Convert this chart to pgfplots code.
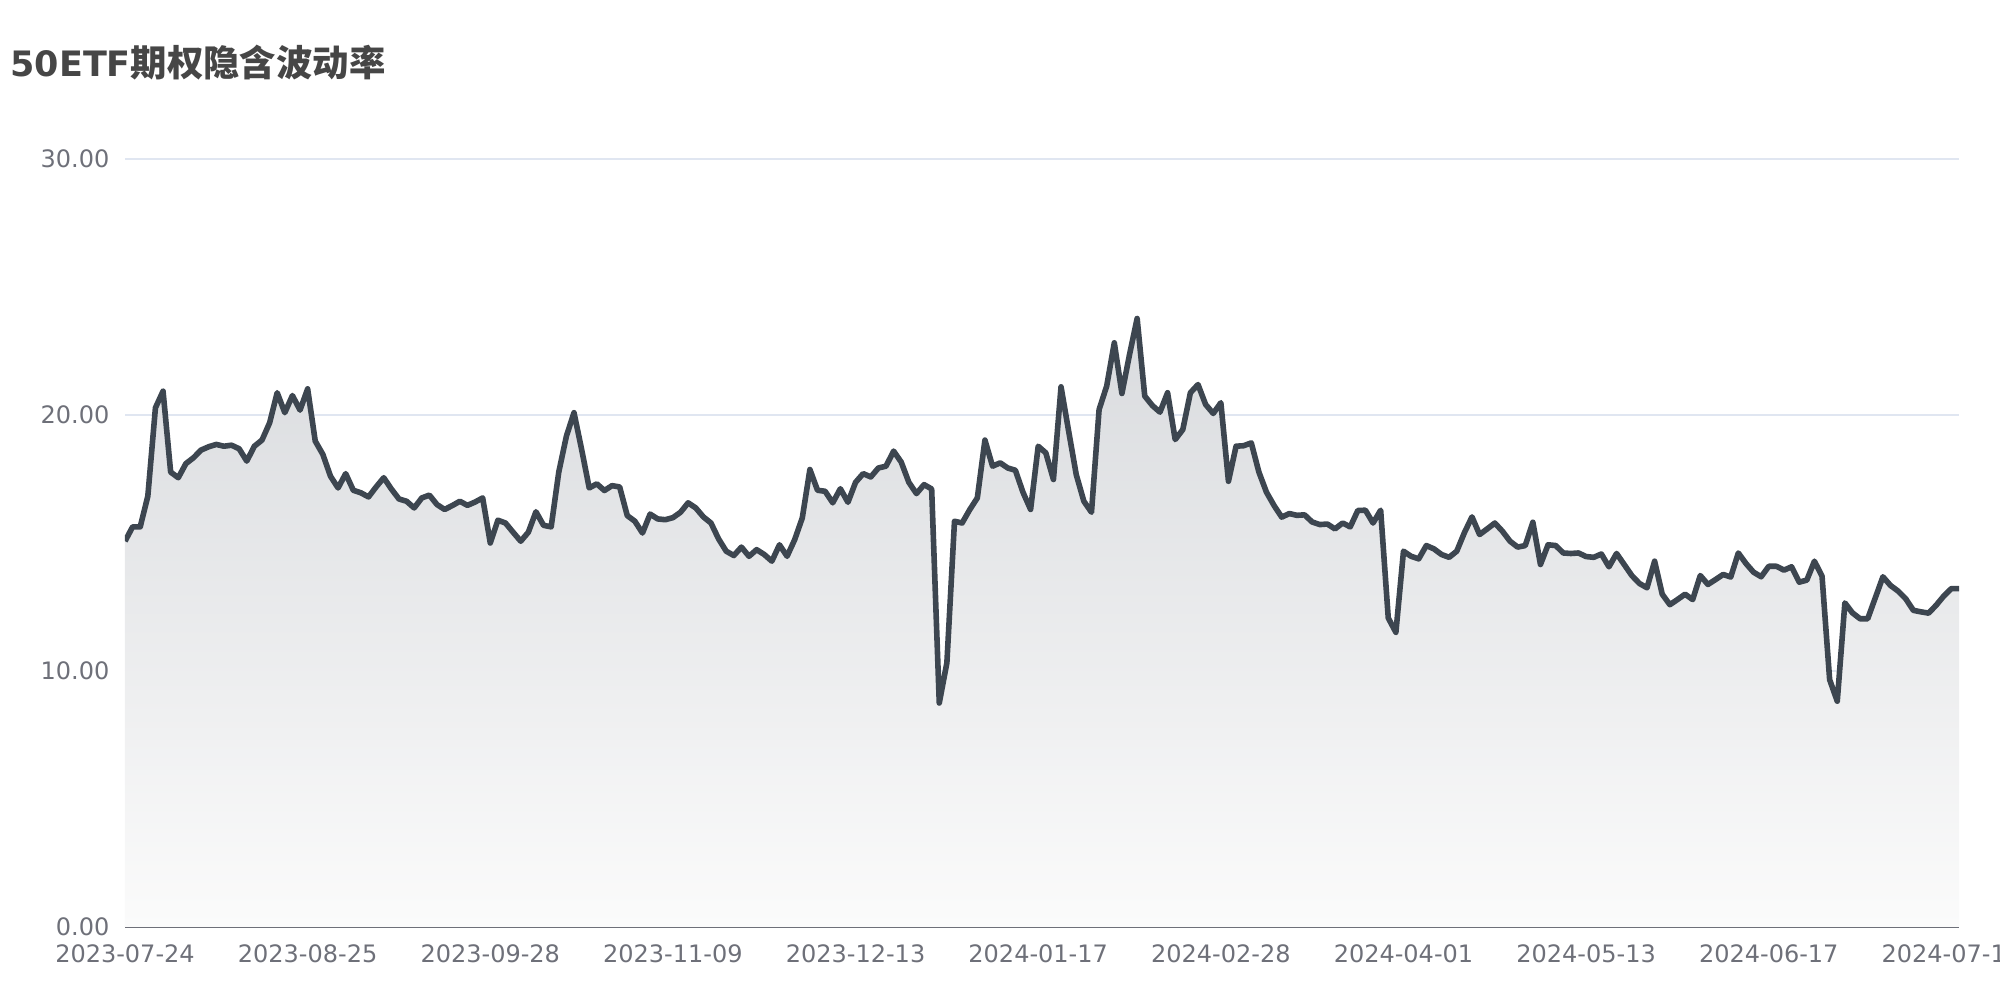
\documentclass[border=0pt]{standalone}
\usepackage{pgfplots}
\usepackage{pgfplotstable}
\pgfplotsset{compat=1.18}
\usepackage{fontspec}
\setmainfont{DejaVu Sans}
\newfontfamily\cjk{Noto Sans CJK SC}
\definecolor{linec}{HTML}{3D4650}
\definecolor{tickc}{HTML}{6E7079}
\definecolor{gridc}{HTML}{E0E6F1}
\definecolor{titlec}{HTML}{464646}
\definecolor{filltop}{HTML}{D9DBDE}
\definecolor{fillbot}{HTML}{FBFBFB}
\pgfplotstableread{
i v
0 15.07
1 15.63
2 15.63
3 16.83
4 20.28
5 20.93
6 17.77
7 17.55
8 18.10
9 18.33
10 18.63
11 18.76
12 18.85
13 18.78
14 18.82
15 18.68
16 18.20
17 18.78
18 19.02
19 19.69
20 20.87
21 20.09
22 20.76
23 20.19
24 21.02
25 18.98
26 18.46
27 17.61
28 17.15
29 17.71
30 17.06
31 16.96
32 16.80
33 17.19
34 17.55
35 17.11
36 16.72
37 16.63
38 16.37
39 16.76
40 16.87
41 16.50
42 16.31
43 16.46
44 16.63
45 16.47
46 16.60
47 16.76
48 15.00
49 15.89
50 15.78
51 15.42
52 15.07
53 15.42
54 16.22
55 15.69
56 15.63
57 17.77
58 19.17
59 20.09
60 18.66
61 17.15
62 17.31
63 17.05
64 17.24
65 17.19
66 16.07
67 15.85
68 15.39
69 16.13
70 15.94
71 15.91
72 15.99
73 16.20
74 16.57
75 16.37
76 16.02
77 15.78
78 15.16
79 14.68
80 14.51
81 14.84
82 14.48
83 14.74
84 14.55
85 14.29
86 14.93
87 14.48
88 15.13
89 15.98
90 17.87
91 17.06
92 17.02
93 16.57
94 17.12
95 16.59
96 17.37
97 17.71
98 17.58
99 17.93
100 18.00
101 18.59
102 18.16
103 17.37
104 16.93
105 17.28
106 17.11
107 8.75
108 10.32
109 15.85
110 15.78
111 16.30
112 16.76
113 19.02
114 18.00
115 18.13
116 17.93
117 17.84
118 16.98
119 16.31
120 18.78
121 18.52
122 17.48
123 21.10
124 19.37
125 17.67
126 16.63
127 16.20
128 20.21
129 21.13
130 22.82
131 20.84
132 22.36
133 23.77
134 20.74
135 20.37
136 20.11
137 20.87
138 19.04
139 19.43
140 20.87
141 21.19
142 20.41
143 20.06
144 20.48
145 17.41
146 18.78
147 18.80
148 18.91
149 17.77
150 16.98
151 16.46
152 16.01
153 16.15
154 16.08
155 16.10
156 15.82
157 15.72
158 15.74
159 15.55
160 15.78
161 15.63
162 16.27
163 16.28
164 15.78
165 16.28
166 12.07
167 11.51
168 14.68
169 14.48
170 14.38
171 14.90
172 14.77
173 14.55
174 14.44
175 14.68
176 15.40
177 16.02
178 15.33
179 15.55
180 15.78
181 15.46
182 15.07
183 14.84
184 14.90
185 15.81
186 14.16
187 14.93
188 14.90
189 14.61
190 14.59
191 14.61
192 14.47
193 14.44
194 14.57
195 14.07
196 14.59
197 14.16
198 13.73
199 13.42
200 13.25
201 14.29
202 13.00
203 12.59
204 12.79
205 13.00
206 12.79
207 13.73
208 13.38
209 13.57
210 13.77
211 13.67
212 14.61
213 14.20
214 13.86
215 13.68
216 14.09
217 14.09
218 13.94
219 14.07
220 13.47
221 13.55
222 14.29
223 13.70
224 9.66
225 8.82
226 12.66
227 12.27
228 12.04
229 12.04
230 12.86
231 13.68
232 13.34
233 13.12
234 12.82
235 12.37
236 12.31
237 12.26
238 12.57
239 12.93
240 13.22
241 13.22
}\ivdata
\begin{document}
\begin{tikzpicture}
\path[use as bounding box] (0,0) rectangle (1000pt,500pt);
\node[anchor=west, inner sep=0pt, text=titlec] at (5pt,468.5pt)
  {\fontsize{17.5}{20}\selectfont\bfseries 50ETF{\cjk\bfseries\fontsize{18.2}{22}\selectfont 期权隐含波动率}};
\begin{axis}[
  at={(62.5pt,36.5pt)}, anchor=south west,
  scale only axis, width=917pt, height=384pt,
  xmin=0, xmax=241, ymin=0, ymax=30,
  ytick={0,10,20,30},
  xtick={0,24,...,240},
  xticklabels={2023-07-24,2023-08-25,2023-09-28,2023-11-09,2023-12-13,2024-01-17,2024-02-28,2024-04-01,2024-05-13,2024-06-17,2024-07-19},
  axis x line*=bottom, axis y line*=left,
  x axis line style={tickc, line width=1pt, -},
  y axis line style={draw=none},
  tick style={draw=none},
  ymajorgrids, grid style={gridc, line width=1pt},
  ticklabel style={font=\fontsize{12}{14}\selectfont, text=tickc},
  yticklabel style={xshift=-4.3pt},
  xticklabel style={yshift=-5.5pt},
  /pgf/number format/.cd, fixed, fixed zerofill, precision=2, assume math mode=true,
]
\addplot[draw=none, top color=filltop, bottom color=fillbot] table[x=i, y=v] {\ivdata} \closedcycle;
\addplot[linec, line width=2.8pt, line join=round, no markers] table[x=i, y=v] {\ivdata};
\end{axis}
\end{tikzpicture}
\end{document}
